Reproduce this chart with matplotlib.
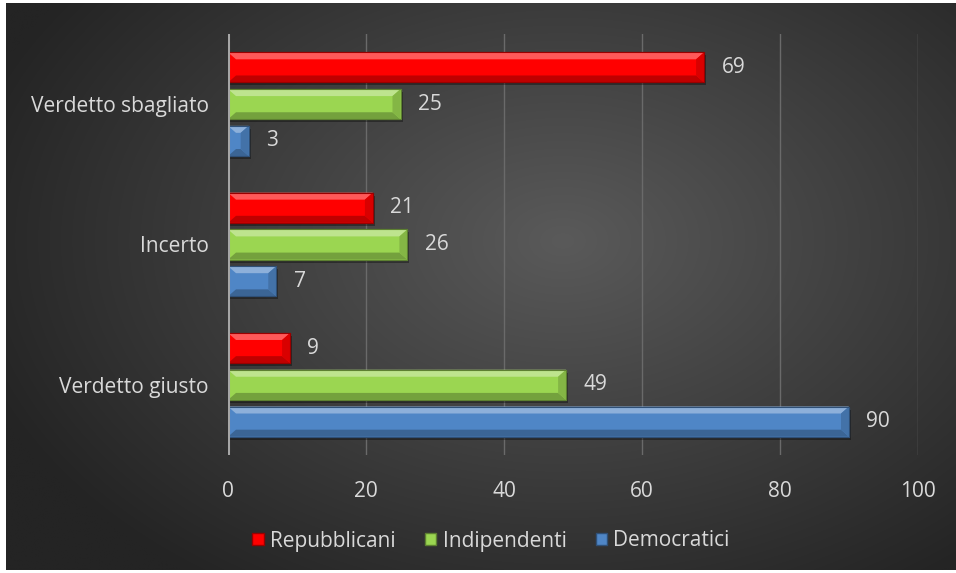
import numpy as np
import matplotlib.pyplot as plt
from matplotlib.patches import Polygon, Rectangle
from matplotlib.colors import to_rgb

categories = ["Verdetto giusto", "Incerto", "Verdetto sbagliato"]
series = ["Repubblicani", "Indipendenti", "Democratici"]
repubblicani = [9, 21, 69]
indipendenti = [49, 26, 25]
democratici = [90, 7, 3]
xticks = [0, 20, 40, 60, 80, 100]

colors = {"Repubblicani": "#FF0000", "Indipendenti": "#9BD651", "Democratici": "#4F86C6"}
text_col = "#D9D9D9"
font = ["Open Sans", "DejaVu Sans"]
plt.rcParams["font.family"] = font
fs = 15

W, H = 956, 573
fig = plt.figure(figsize=(W / 100, H / 100), dpi=100)
fig.patch.set_facecolor("white")

# background with radial gradient
bg = fig.add_axes([6 / W, 3 / H, 1 - 6 / W, 1 - 6 / H])
bg.set_axis_off()
yy, xx = np.mgrid[0:H, 0:W]
r = np.sqrt(((xx - 560) / 620) ** 2 + ((yy - 240) / 420) ** 2)
r = np.clip(r, 0, 1)
c0, c1 = np.array(to_rgb("#5A5A5A")), np.array(to_rgb("#242424"))
img = c0[None, None, :] * (1 - r[..., None]) + c1[None, None, :] * r[..., None]
bg.imshow(img, aspect="auto", extent=[0, 1, 0, 1])
bg.set_xlim(0, 1)
bg.set_ylim(0, 1)

ax = fig.add_axes([228 / W, 1 - 455 / H, (918 - 228) / W, 421 / H])
ax.set_facecolor("none")

ypos = np.arange(len(categories))
step = 0.262
hgt = 0.215
offsets = {"Repubblicani": step, "Indipendenti": 0.0, "Democratici": -step}
data = {"Repubblicani": repubblicani, "Indipendenti": indipendenti, "Democratici": democratici}

px_x = 100 / 690.0   # data units per pixel (x)
px_y = 3.0 / 421.0   # data units per pixel (y)


def shade(c, f):
    c = np.array(to_rgb(c))
    if f > 0:
        return tuple(c + (1 - c) * f)
    return tuple(c * (1 + f))


for s in series:
    col = colors[s]
    bars = ax.barh(ypos + offsets[s], data[s], height=hgt, color=col,
                   edgecolor=shade(col, -0.35), linewidth=0.8, zorder=3)
    for b, v in zip(bars, data[s]):
        y0 = b.get_y()
        y1 = y0 + b.get_height()
        bx = min(8 * px_x, v / 2)
        by = 7 * px_y
        # drop shadow
        ax.add_patch(Rectangle((0, y0 - 3 * px_y), v + 2 * px_x, y1 - y0,
                               color="black", alpha=0.35, zorder=2, lw=0))
        ax.add_patch(Polygon([(0, y1), (v, y1), (v - bx, y1 - by), (bx, y1 - by)],
                             closed=True, color=shade(col, 0.35), lw=0, zorder=4))
        ax.add_patch(Polygon([(0, y0), (v, y0), (v - bx, y0 + by), (bx, y0 + by)],
                             closed=True, color=shade(col, -0.25), lw=0, zorder=4))
        ax.add_patch(Polygon([(v, y1), (v, y0), (v - bx, y0 + by), (v - bx, y1 - by)],
                             closed=True, color=shade(col, -0.15), lw=0, zorder=4))
        ax.add_patch(Rectangle((0, y0), v, y1 - y0, fill=False,
                               edgecolor=shade(col, -0.4), lw=0.8, zorder=5))
        ax.annotate(str(v), (v, b.get_y() + b.get_height() / 2),
                    xytext=(12.5, 0), textcoords="offset points",
                    va="center", ha="left", color=text_col, fontsize=fs)

ax.set_xlim(0, 100)
ax.set_ylim(-0.5, len(categories) - 0.5)
ax.set_xticks(xticks)
ax.set_xticklabels([str(t) for t in xticks])
ax.set_yticks(ypos)
ax.set_yticklabels(categories)
ax.tick_params(axis="both", length=0, colors=text_col, labelsize=fs)
ax.tick_params(axis="x", pad=19)
ax.tick_params(axis="y", pad=14)
for sp in ax.spines.values():
    sp.set_visible(False)
ax.xaxis.grid(True, color="#6A6A6A", linewidth=1)
ax.set_axisbelow(True)
ax.axvline(0, color="#A6A6A6", linewidth=2.2, zorder=6)

handles = [Rectangle((0, 0), 1, 1, facecolor=colors[s], edgecolor=shade(colors[s], -0.4)) for s in series]
leg = fig.legend(handles, series, loc="center", bbox_to_anchor=(491 / W, 1 - 541 / H),
                 ncol=3, frameon=False, fontsize=fs, handlelength=0.55, handleheight=0.55,
                 handletextpad=0.3, columnspacing=1.4, labelcolor=text_col)

fig.savefig("out.png", dpi=100)
